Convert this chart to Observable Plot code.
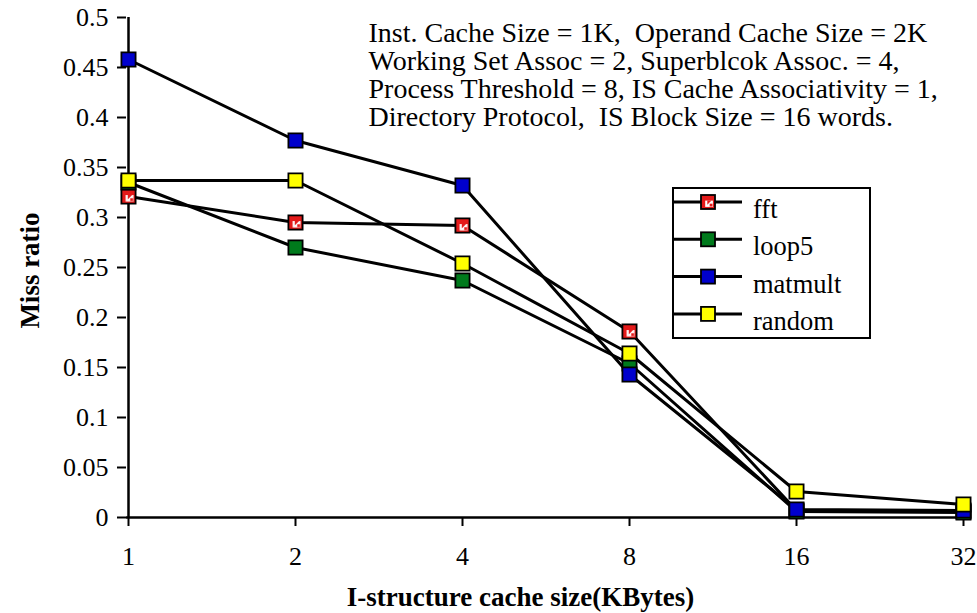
<!DOCTYPE html>
<html>
<head>
<meta charset="utf-8">
<script src="https://cdn.jsdelivr.net/npm/d3@7"></script>
<script src="https://cdn.jsdelivr.net/npm/@observablehq/plot@0.6"></script>
<style>
  html, body { margin: 0; padding: 0; background: white; }
  #chart { width: 977px; height: 613px; }
</style>
</head>
<body>
<div id="chart"></div>
<script>
// ---- data ----
const sizes = ["1", "2", "4", "8", "16", "32"];
const seriesNames = ["fft", "loop5", "matmult", "random"];
const fft     = [0.321, 0.295, 0.292, 0.186, 0.007, 0.006];
const loop5   = [0.335, 0.270, 0.237, 0.154, 0.006, 0.005];
const matmult = [0.458, 0.377, 0.332, 0.143, 0.008, 0.007];
const random  = [0.337, 0.337, 0.254, 0.164, 0.026, 0.013];
const yTicks  = [0, 0.05, 0.1, 0.15, 0.2, 0.25, 0.3, 0.35, 0.4, 0.45, 0.5];
const xLabel = "I-structure cache size(KBytes)";
const yLabel = "Miss ratio";
const annotation = [
  "Inst. Cache Size = 1K,  Operand Cache Size = 2K",
  "Working Set Assoc = 2, Superblcok Assoc. = 4,",
  "Process Threshold = 8, IS Cache Associativity = 1,",
  "Directory Protocol,  IS Block Size = 16 words."
];

const colors = {fft: "url(#fftpat)", loop5: "#007a1c", matmult: "#0000cc", random: "#ffff00"};
const valuesBy = {fft, loop5, matmult, random};
const rows = seriesNames.flatMap(s => sizes.map((x, i) => ({series: s, size: x, value: valuesBy[s][i]})));

const font = "'Liberation Serif', 'Times New Roman', serif";

const marks = [
  Plot.axisY({ticks: yTicks, tickFormat: d => String(+d.toFixed(2)), tickSize: 9, tickPadding: 9,
              strokeWidth: 2, fontSize: 26, label: null}),
  Plot.axisX({tickSize: 9, tickPadding: 20, strokeWidth: 2, fontSize: 26, label: null}),
  Plot.ruleX([sizes[0]], {stroke: "black", strokeWidth: 2.5}),
  Plot.ruleY([0], {stroke: "black", strokeWidth: 2.5}),
  Plot.text([xLabel], {frameAnchor: "bottom", dx: -25, dy: 80, lineAnchor: "middle", textAnchor: "middle",
              fontWeight: "bold", fontSize: 27}),
  Plot.text([yLabel], {frameAnchor: "left", dx: -96, dy: 3, rotate: -90, textAnchor: "middle", lineAnchor: "middle",
              fontWeight: "bold", fontSize: 27}),
  Plot.text([annotation.join("\n")], {frameAnchor: "top-left", dx: 242, dy: 5, textAnchor: "start",
              lineAnchor: "top", lineHeight: 1.0, fontSize: 28})
];
for (const s of seriesNames) {
  marks.push(Plot.line(rows.filter(d => d.series === s), {x: "size", y: "value", stroke: "black", strokeWidth: 3}));
}
for (const s of seriesNames) {
  marks.push(Plot.dot(rows.filter(d => d.series === s), {x: "size", y: "value", symbol: "square", r: 8,
              fill: colors[s], stroke: "black", strokeWidth: 1.8}));
}

const chart = Plot.plot({
  width: 977, height: 613,
  marginLeft: 126, marginRight: 13, marginTop: 17, marginBottom: 96,
  style: {fontFamily: font, color: "black", background: "white", overflow: "visible"},
  x: {type: "point", domain: sizes, padding: 0},
  y: {domain: [0, 0.5]},
  marks
});

// pattern for fft marker
const svg = d3.select(chart);
const defs = svg.insert("defs", ":first-child");
const pat = defs.append("pattern").attr("id", "fftpat").attr("patternContentUnits", "objectBoundingBox")
  .attr("width", 1).attr("height", 1);
pat.append("rect").attr("width", 1).attr("height", 1).attr("fill", "#e41a1a");
pat.append("rect").attr("x", 0.3).attr("y", 0.4).attr("width", 0.55).attr("height", 0.45).attr("fill", "white");
pat.append("path").attr("d", "M0.45,0.4 L0.75,0.4 L0.45,0.7 Z").attr("fill", "#e41a1a");
pat.append("rect").attr("x", 0.62).attr("y", 0.62).attr("width", 0.2).attr("height", 0.2).attr("fill", "#e41a1a");

// legend
const lg = svg.append("g").attr("font-family", font).attr("font-size", 26.5).attr("text-anchor", "start");
lg.append("rect").attr("x", 673).attr("y", 188).attr("width", 197).attr("height", 150)
  .attr("fill", "white").attr("stroke", "black").attr("stroke-width", 2);
seriesNames.forEach((s, i) => {
  const yy = 202 + i * 37.3;
  lg.append("line").attr("x1", 673).attr("x2", 742).attr("y1", yy).attr("y2", yy)
    .attr("stroke", "black").attr("stroke-width", 3);
  lg.append("rect").attr("x", 701).attr("y", yy - 7).attr("width", 14).attr("height", 14)
    .attr("fill", colors[s]).attr("stroke", "black").attr("stroke-width", 1.8);
  lg.append("text").attr("x", 753).attr("y", yy + 16).attr("text-anchor", "start").text(s);
});

document.getElementById("chart").appendChild(chart);
</script>
</body>
</html>
